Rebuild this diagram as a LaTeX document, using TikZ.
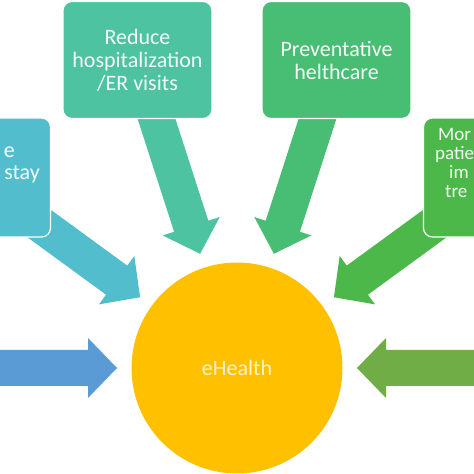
\documentclass[tikz,border=0pt]{standalone}
\usepackage{fontspec}
\setmainfont{Carlito}
\usetikzlibrary{calc,backgrounds}
\definecolor{ehgold}{HTML}{FFC000}
\definecolor{ehtext}{HTML}{FFF2CC}
\definecolor{hospcol}{RGB}{78,195,161}
\definecolor{prevcol}{RGB}{72,190,117}
\definecolor{staycol}{RGB}{82,190,205}
\definecolor{morecol}{RGB}{76,184,74}
\definecolor{bluecol}{HTML}{5B9BD5}
\definecolor{greencol}{HTML}{70AD47}
\tikzset{
  goalbox/.style={rounded corners=9pt, draw=white, line width=1.2pt, minimum width=149pt,
    minimum height=117pt, align=center, text=white!94!#1, fill=#1,
    font=\fontsize{22}{23}\selectfont},
  boxtext/.style 2 args={text=white!94!#1, font=\fontsize{#2}{#2}\selectfont, inner sep=0pt},
  ehcirc/.style={circle, fill=ehgold, minimum size=211pt, inner sep=0pt, text=ehtext,
    font=\fontsize{22}{24}\selectfont}
}
% block arrow: start, tip, colour
\newcommand{\blockarrow}[3]{%
  \coordinate (hb) at ($(#2)!29pt!(#1)$);
  \fill[#3] ($(#1)!18pt!90:(#2)$) -- ($(hb)!18pt!90:(#2)$) -- ($(hb)!30pt!90:(#2)$) -- (#2)
    -- ($(hb)!30pt!-90:(#2)$) -- ($(hb)!18pt!-90:(#2)$) -- ($(#1)!18pt!-90:(#2)$) -- cycle;
}
\begin{document}
\begin{tikzpicture}[x=1pt,y=1pt]
    \useasboundingbox (0,0) rectangle (474,474);
    \node[ehcirc] (eh) at (237,106) {eHealth};
    \node[goalbox=hospcol] (hosp) at (137.5,414) {Reduce\\hospitalization\\/ER visits};
    \node[goalbox=prevcol] (prev) at (336.5,414) {Preventative\\helthcare};
    \node[goalbox=staycol, minimum height=119pt] (stay) at (-24,296.5) {};
    \node[goalbox=morecol, minimum height=119pt] (more) at (498,296.5) {};
    % cut-off texts, anchored at their last line
    \node[boxtext={staycol}{22}, anchor=base east, align=right] (staytxt) at (40,294) {e\hspace*{25pt}\\stay};
    \node[boxtext={morecol}{19}, anchor=base west, align=left] (moretxt) at (435,276)
        {\hspace*{3pt}Mor\\patie\\\hspace*{14pt}im\\\hspace*{10pt}tre};
    \coordinate (lsrc) at (-80,106);
    \coordinate (rsrc) at (554,106);
    % tips sit 15pt off the circle
    \coordinate (thosp) at ($(eh.center)!120pt!(hosp.center)$);
    \coordinate (tprev) at ($(eh.center)!120pt!(prev.center)$);
    \coordinate (tstay) at ($(eh.center)!120pt!(stay.center)$);
    \coordinate (tmore) at ($(eh.center)!120pt!(more.center)$);
    \coordinate (tl) at ($(eh.center)!120pt!(lsrc)$);
    \coordinate (tr) at ($(eh.center)!120pt!(rsrc)$);
    \begin{pgfonlayer}{background}
        \blockarrow{hosp.center}{thosp}{hospcol}
        \blockarrow{prev.center}{tprev}{prevcol}
        \blockarrow{stay.center}{tstay}{staycol}
        \blockarrow{more.center}{tmore}{morecol}
        \blockarrow{lsrc}{tl}{bluecol}
        \blockarrow{rsrc}{tr}{greencol}
    \end{pgfonlayer}
\end{tikzpicture}
\end{document}
